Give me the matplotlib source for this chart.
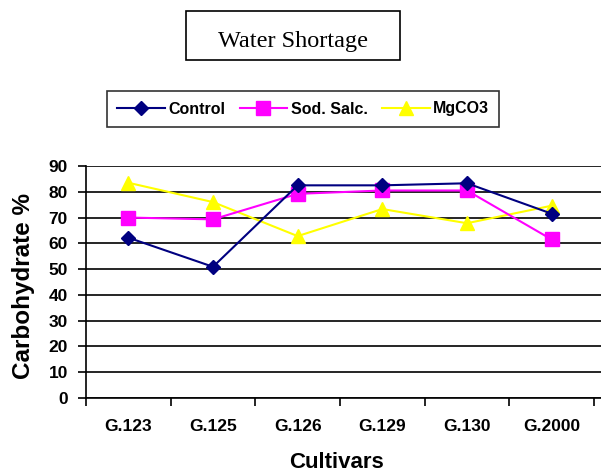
import numpy as np
import matplotlib.pyplot as plt
from matplotlib.patches import Rectangle

cultivars = ["G.123", "G.125", "G.126", "G.129", "G.130", "G.2000"]
control = [62.2, 50.9, 82.5, 82.5, 83.3, 71.5]
sod_salc = [70.0, 69.3, 79.2, 80.5, 80.5, 61.5]
mgco3 = [83.5, 76.0, 62.8, 73.3, 67.8, 74.6]

W, H = 601, 474
fig = plt.figure(figsize=(W / 100, H / 100), dpi=100)
plt.rcParams['font.family'] = ['Liberation Sans', 'DejaVu Sans']

# plot area in pixels: left 86, right ~601, y=90 at 166, y=0 at 398
ax = fig.add_axes([86 / W, 1 - 398 / H, (601 - 86) / W, (398 - 166) / H])

x = np.arange(len(cultivars))
ax.plot(x, control, color="#000080", lw=1.5, marker="D", ms=7.5,
        mfc="#000080", mec="#000080", label="Control", zorder=4)
ax.plot(x, sod_salc, color="#FF00FF", lw=1.5, marker="s", ms=9.5,
        mfc="#FF00FF", mec="#FF00FF", label="Sod. Salc.", zorder=3)
ax.plot(x, mgco3, color="#FFFF00", lw=1.5, marker="^", ms=10.5,
        mfc="#FFFF00", mec="#FFFF00", label="MgCO3", zorder=2)

ax.set_ylim(0, 90)
ax.set_yticks(np.arange(0, 91, 10))
ax.set_xlim(-0.5, 5.5 + 7 / 84.6)
ax.set_xticks(np.arange(-0.5, 6, 1))
ax.set_xticklabels([])
ax.set_xticks(x, minor=True)
ax.set_xticklabels(cultivars, minor=True, fontweight="bold", fontsize=12.5)
ax.tick_params(axis="x", which="minor", length=0, pad=15)
ax.tick_params(axis="x", which="major", direction="out", length=6, width=1.2, color="black")
ax.tick_params(axis="y", direction="out", length=6, width=1.2, color="black",
               labelsize=12.5, pad=7)
for lab in ax.get_yticklabels():
    lab.set_fontweight("bold")

ax.grid(axis="y", color="black", lw=1.2)
ax.set_axisbelow(True)
for s in ("top", "right"):
    ax.spines[s].set_visible(False)
ax.spines["left"].set_linewidth(1.2)
ax.spines["bottom"].set_linewidth(1.2)

fig.text(24 / W, 1 - 286 / H, "Carbohydrate %", rotation=90, ha="center", va="center",
         fontsize=17.5, fontweight="bold")
fig.text(337 / W, 1 - 468 / H, "Cultivars", ha="center", va="baseline",
         fontsize=16, fontweight="bold")

# title box
fig.patches.append(Rectangle((186 / W, 1 - 60 / H), 214 / W, 49 / H,
                             transform=fig.transFigure, fc="white", ec="black", lw=1.2))
fig.text(293 / W, 1 - 47 / H, "Water Shortage", ha="center", va="baseline",
         fontsize=17.5, family=["Liberation Serif", "DejaVu Serif"])

leg = fig.legend(loc="center", bbox_to_anchor=(303 / W, 1 - 109 / H), ncol=3,
                 frameon=True, fancybox=False, edgecolor="black",
                 prop=dict(weight="bold", size=11.5), handlelength=3.0,
                 columnspacing=0.9, handletextpad=0.2, borderpad=0.65)
leg.get_frame().set_linewidth(1.2)

fig.savefig("out.png", dpi=100)
